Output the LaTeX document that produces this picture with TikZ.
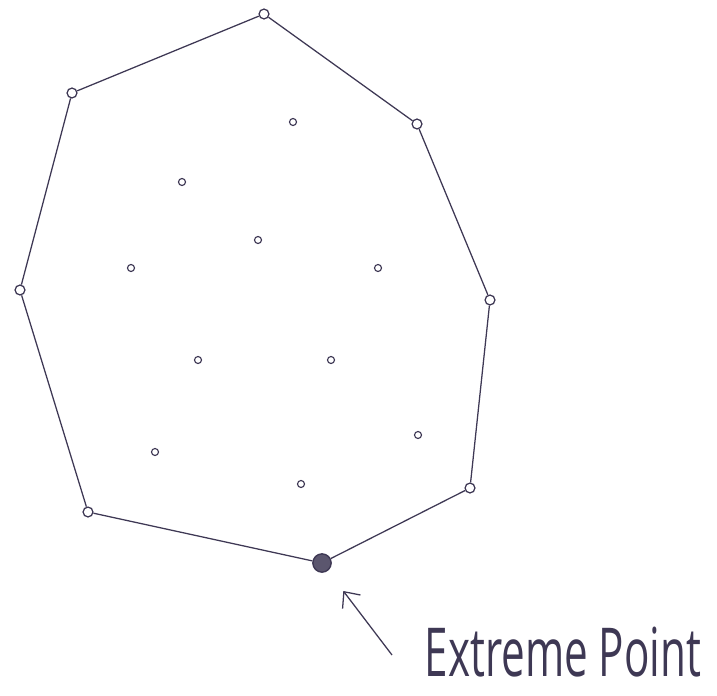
\documentclass[tikz,border=0pt]{standalone}
\usepackage{fontspec}
\usepackage{graphicx}
\setmainfont{Open Sans}
\usepackage{tikz}
\usetikzlibrary{arrows.meta}

\definecolor{pen}{RGB}{62,56,84}

\begin{document}
\begin{tikzpicture}[
  x=0.025cm, y=-0.025cm,
  pen line/.style={draw=pen, line width=0.9pt},
  hullpt/.style={circle, draw=pen, line width=0.9pt, inner sep=0pt, minimum size=7pt},
  innerpt/.style={circle, draw=pen, line width=0.8pt, inner sep=0pt, minimum size=5pt},
  extreme/.style={circle, draw=pen, fill=pen!85, line width=1pt, inner sep=0pt, minimum size=13pt},
  arr/.style={-{Straight Barb[length=9pt, width=16pt]}, draw=pen, line width=0.9pt, shorten >=18pt},
]
\useasboundingbox (0,0) rectangle (717,696);

% hull points
\node[hullpt]  (top)   at (264,14)  {};
\node[hullpt]  (ur)    at (417,124) {};
\node[hullpt]  (right) at (490,300) {};
\node[hullpt]  (lr)    at (470,488) {};
\node[extreme] (ext)   at (322,563) {};
\node[hullpt]  (ll)    at (88,512)  {};
\node[hullpt]  (left)  at (20,290)  {};
\node[hullpt]  (ul)    at (72,93)   {};

% inner points
\node[innerpt] (i1)  at (293,122) {};
\node[innerpt] (i2)  at (182,182) {};
\node[innerpt] (i3)  at (258,240) {};
\node[innerpt] (i4)  at (131,268) {};
\node[innerpt] (i5)  at (378,268) {};
\node[innerpt] (i6)  at (198,360) {};
\node[innerpt] (i7)  at (331,360) {};
\node[innerpt] (i8)  at (418,435) {};
\node[innerpt] (i9)  at (155,452) {};
\node[innerpt] (i10) at (301,484) {};

% hull edges
\draw[pen line] (ul) -- (top) -- (ur) -- (right) -- (lr) -- (ext) -- (ll) -- (left) -- (ul);

% label
\node[text=pen, inner sep=0pt] (lbl) at (563,652)
  {\scalebox{1}[1.6]{\fontsize{30}{34}\selectfont Extreme Point}};
\coordinate (tail) at (392,655);
\draw[arr] (tail) -- (ext);
\end{tikzpicture}
\end{document}
